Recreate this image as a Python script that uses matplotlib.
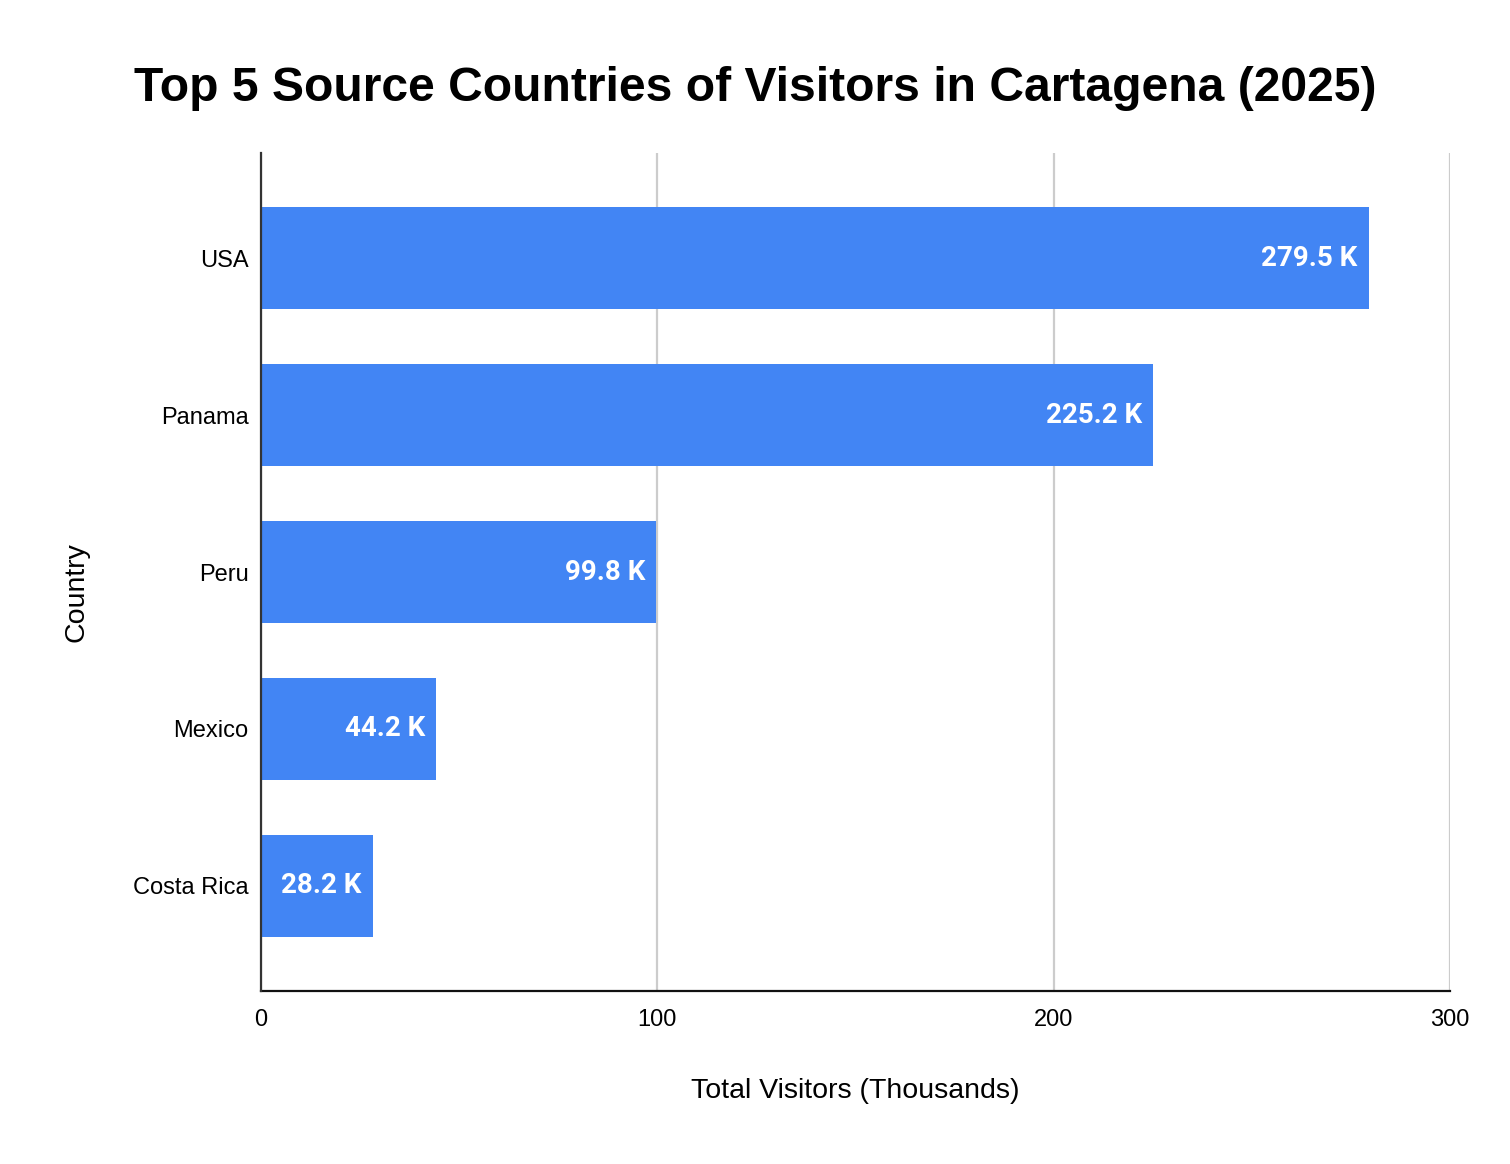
import matplotlib
matplotlib.use('Agg')
import matplotlib.pyplot as plt

countries = ['USA', 'Panama', 'Peru', 'Mexico', 'Costa Rica']
visitors = [279.5, 225.2, 99.8, 44.2, 28.2]
bar_labels = ['279.5 K', '225.2 K', '99.8 K', '44.2 K', '28.2 K']
x_ticks = [0, 100, 200, 300]

fig = plt.figure(figsize=(15.1, 11.64), dpi=100)
ax = fig.add_axes([0.1728, 0.1486, 0.7874, 0.7199])

pos = list(range(len(countries)))
ax.barh(pos, visitors, height=0.65, color='#4285F4', zorder=3)

for p, v, lab in zip(pos, visitors, bar_labels):
    ax.annotate(lab, (v, p), xytext=(-11, 0), textcoords='offset pixels',
                ha='right', va='center', color='white', fontsize=20,
                fontweight='bold', family='Roboto', zorder=4)

ax.set_ylim(4.67, -0.67)
ax.set_xlim(0, 300)
ax.set_yticks(pos)
ax.set_yticklabels(countries, family='Liberation Sans', fontsize=17)
ax.set_xticks(x_ticks)
ax.set_xticklabels([str(t) for t in x_ticks], family='Liberation Sans', fontsize=17)
ax.tick_params(axis='both', length=0)
ax.tick_params(axis='x', pad=13)
ax.tick_params(axis='y', pad=9)

ax.grid(True, axis='x', color='#cccccc', linewidth=1.6, zorder=0)
for s in ['top', 'right']:
    ax.spines[s].set_visible(False)
ax.spines['left'].set_color('#333333')
ax.spines['left'].set_linewidth(1.6)
ax.spines['bottom'].set_color('#111111')
ax.spines['bottom'].set_linewidth(1.6)
ax.spines['left'].set_zorder(5)

ax.set_xlabel('Total Visitors (Thousands)', family='Liberation Sans', fontsize=20.5, labelpad=34)
ax.set_ylabel('Country', family='Liberation Sans', fontsize=20.5)
ax.yaxis.set_label_coords(-0.1438, 0.476)

fig.text(0.5, 0.924, 'Top 5 Source Countries of Visitors in Cartagena (2025)',
         ha='center', va='center', family='Liberation Sans', fontsize=34.6, fontweight='bold')

fig.savefig('out.png', dpi=100)
